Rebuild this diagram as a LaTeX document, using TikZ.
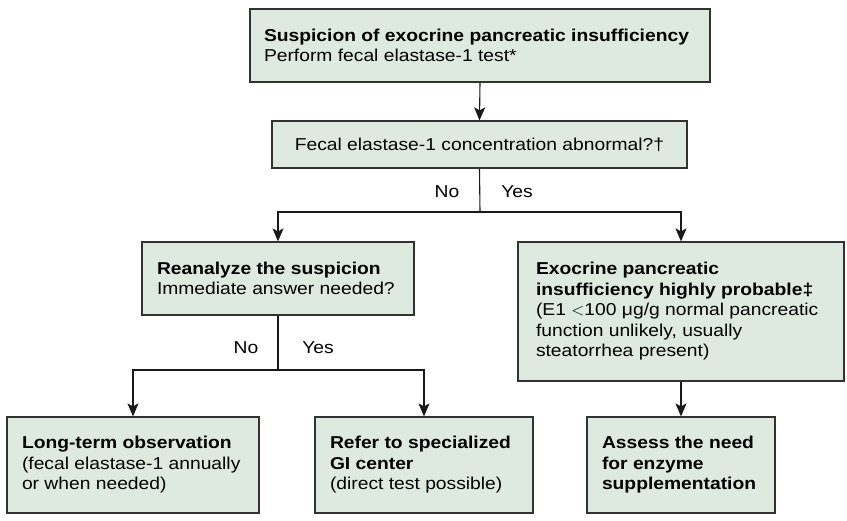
\documentclass[tikz,border=0pt]{standalone}
\usepackage{fontspec}
\setmainfont{Liberation Sans}[FakeStretch=1.12]
\usetikzlibrary{arrows.meta}
\definecolor{boxfill}{RGB}{222,234,223}
\definecolor{boxline}{RGB}{50,50,50}
\definecolor{connline}{RGB}{25,25,25}
\tikzset{
  fbox/.style={draw=boxline, line width=1.2pt, fill=boxfill, inner sep=0pt,
    font=\fontsize{17.2}{20.5}\selectfont, align=left},
  conn/.style={draw=connline, line width=1.1pt},
  arr/.style={conn, -{Stealth[length=13pt,width=11pt,inset=3pt]}},
  lbl/.style={font=\fontsize{17.2}{20}\selectfont, inner sep=0pt}
}
\newcommand{\bx}[3]{\begin{minipage}[c][#2pt][c]{#1pt}#3\end{minipage}}
\begin{document}
\begin{tikzpicture}[x=1pt,y=1pt]
\useasboundingbox (0,0) rectangle (847,-520);
\node[fbox, minimum width=460pt, minimum height=73pt] (top) at (480,-45.5)
  {\bx{432}{60}{\textbf{Suspicion of exocrine pancreatic insufficiency}\\Perform fecal elastase-1 test*}};
\node[fbox, minimum width=415pt, minimum height=47pt, align=center] (conc) at (479.5,-144.5)
  {Fecal elastase-1 concentration abnormal?†};
\node[fbox, minimum width=272pt, minimum height=73pt] (reana) at (278,-278.5)
  {\bx{242}{60}{\textbf{Reanalyze the suspicion}\\Immediate answer needed?}};
\node[fbox, minimum width=326pt, minimum height=139pt] (exo) at (681,-311.5)
  {\bx{290}{125}{\textbf{Exocrine pancreatic}\\\textbf{insufficiency highly probable‡}\\(E1 $<$100 μg/g normal pancreatic\\function unlikely, usually\\steatorrhea present)}};
\node[fbox, minimum width=252pt, minimum height=96pt] (long) at (133,-465)
  {\bx{222}{84}{\textbf{Long-term observation}\\(fecal elastase-1 annually\\or when needed)}};
\node[fbox, minimum width=218pt, minimum height=96pt] (refer) at (424,-465)
  {\bx{188}{84}{\textbf{Refer to specialized}\\\textbf{GI center}\\(direct test possible)}};
\node[fbox, minimum width=188pt, minimum height=96pt] (assess) at (681,-465)
  {\bx{158}{84}{\textbf{Assess the need}\\\textbf{for enzyme}\\\textbf{supplementation}}};

\coordinate (j1) at (480,-212);
\coordinate (j2) at (278,-370);

\draw[arr] (top.south) -- (conc.north);
\draw[conn] (conc.south) -- (j1);
\draw[arr] (j1) -| (reana.north);
\draw[arr] (j1) -| (exo.north);
\draw[conn] (reana.south) -- (j2);
\draw[arr] (j2) -| (long.north);
\draw[arr] (j2) -| (refer.north);
\draw[arr] (exo.south) -- (assess.north);

\node[lbl] (no1) at (447,-192) {No};
\node[lbl] (yes1) at (517,-192) {Yes};
\node[lbl] (no2) at (246,-348) {No};
\node[lbl] (yes2) at (318,-348) {Yes};
\end{tikzpicture}
\end{document}
